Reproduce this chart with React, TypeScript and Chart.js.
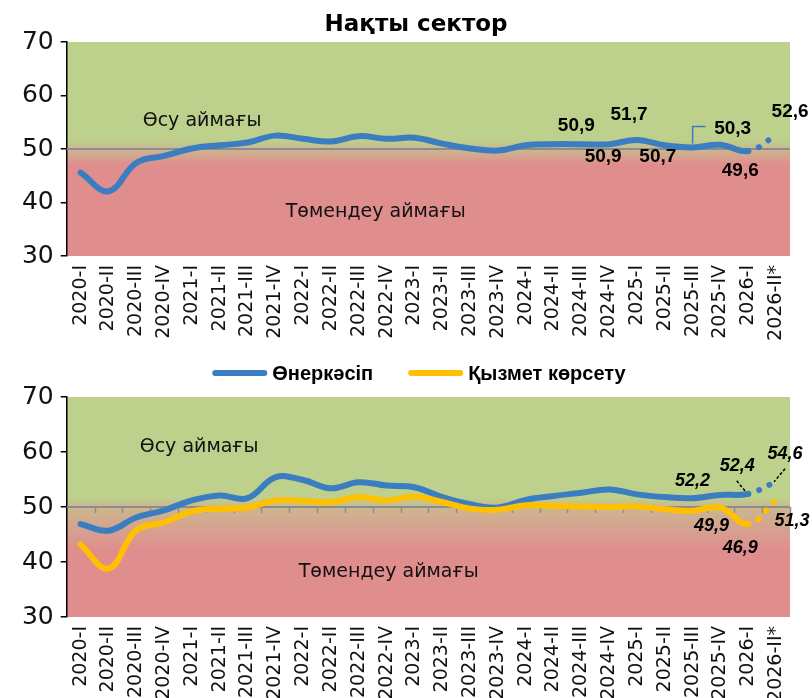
import React, { useEffect, useRef } from 'react';
import { Chart, registerables } from 'chart.js';

Chart.register(...registerables);

const categories = ['2020-I', '2020-II', '2020-III', '2020-IV', '2021-I', '2021-II', '2021-III', '2021-IV', '2022-I', '2022-II', '2022-III', '2022-IV', '2023-I', '2023-II', '2023-III', '2023-IV', '2024-I', '2024-II', '2024-III', '2024-IV', '2025-I', '2025-II', '2025-III', '2025-IV', '2026-I', '2026-II*'];

const realSector = [45.6, 42.1, 47.4, 48.7, 50.1, 50.7, 51.2, 52.5, 51.9, 51.4, 52.4, 51.9, 52.1, 51.0, 50.1, 49.7, 50.7, 50.9, 50.9, 50.9, 51.7, 50.7, 50.3, 50.8, 49.6, 52.6];
const industry = [46.9, 45.7, 48.1, 49.4, 51.2, 52.1, 51.6, 55.4, 54.9, 53.4, 54.5, 53.9, 53.6, 51.8, 50.5, 49.9, 51.3, 52.0, 52.6, 53.2, 52.3, 51.8, 51.6, 52.2, 52.4, 54.6];
const services = [43.2, 38.8, 45.8, 47.2, 49.2, 49.7, 49.9, 51.2, 51.1, 50.9, 51.8, 51.2, 51.9, 50.9, 49.7, 49.5, 50.3, 50.2, 50.1, 50.0, 50.1, 49.6, 49.3, 49.9, 46.9, 51.3];
const yTicks = [30, 40, 50, 60, 70];

const topTitle = 'Нақты сектор';
const industryName = 'Өнеркәсіп';
const servicesName = 'Қызмет көрсету';
const growthZone = 'Өсу аймағы';
const declineZone = 'Төмендеу аймағы';

const BLUE = '#3A7DC0';
const YELLOW = '#FFC000';
const GREEN = '#BDD08C';
const TAN = '#CBB78F';
const RED = '#E08D8E';
const TEXT = '#111111';

const F_DEJAVU = '"DejaVu Sans", sans-serif';
const F_LIB = '"Liberation Sans", Arial, sans-serif';

type LabelSpec = {
  ds: number;
  idx: number;
  dx: number;
  dy: number;
  font: string;
  leader?: number[][];
  leaderColor?: string;
  leaderDash?: number[];
};

const fmt = (v: number) => v.toFixed(1).replace('.', ',');

const topLabels: LabelSpec[] = [
  { ds: 0, idx: 18, dx: -5, dy: -18, font: `bold 19px ${F_LIB}` },
  { ds: 0, idx: 19, dx: -6, dy: 13, font: `bold 19px ${F_LIB}` },
  { ds: 0, idx: 20, dx: -8, dy: -25, font: `bold 19px ${F_LIB}` },
  { ds: 0, idx: 21, dx: -7, dy: 12, font: `bold 19px ${F_LIB}` },
  { ds: 0, idx: 22, dx: 40, dy: -19, font: `bold 19px ${F_LIB}`, leader: [[0, -4], [0, -21], [13, -21]], leaderColor: BLUE },
  { ds: 0, idx: 24, dx: -8, dy: 20, font: `bold 19px ${F_LIB}` },
  { ds: 0, idx: 25, dx: 14, dy: -23, font: `bold 19px ${F_LIB}` },
];

const bottomLabels: LabelSpec[] = [
  { ds: 0, idx: 23, dx: -28, dy: -14, font: `italic bold 18px ${F_LIB}` },
  { ds: 0, idx: 24, dx: -11, dy: -28, font: `italic bold 18px ${F_LIB}`, leader: [[-11.5, -13], [-2.5, -2]], leaderColor: '#000', leaderDash: [3, 2] },
  { ds: 0, idx: 25, dx: 9, dy: -28, font: `italic bold 18px ${F_LIB}`, leader: [[9, -13], [-2, 0]], leaderColor: '#000', leaderDash: [3, 2] },
  { ds: 1, idx: 23, dx: -9, dy: 18, font: `italic bold 18px ${F_LIB}` },
  { ds: 1, idx: 24, dx: -8, dy: 24, font: `italic bold 18px ${F_LIB}` },
  { ds: 1, idx: 25, dx: 16, dy: 21, font: `italic bold 18px ${F_LIB}` },
];

function zonesPlugin(redFrom: number, withTicks: boolean, growthPos: number[], declinePos: number[]) {
  return {
    id: 'zones',
    beforeDraw(chart: any) {
      const { ctx, chartArea: a, scales } = chart;
      const y = scales.y;
      const h = a.bottom - a.top;
      const stop = (v: number) => Math.min(1, Math.max(0, (y.getPixelForValue(v) - a.top) / h));
      const g = ctx.createLinearGradient(0, a.top, 0, a.bottom);
      g.addColorStop(0, GREEN);
      g.addColorStop(stop(51.7), GREEN);
      g.addColorStop(stop(50), TAN);
      g.addColorStop(stop(redFrom), RED);
      g.addColorStop(1, RED);
      ctx.save();
      ctx.fillStyle = g;
      ctx.fillRect(a.left, a.top, a.right - a.left, h);
      ctx.restore();
    },
    beforeDatasetsDraw(chart: any) {
      const { ctx, chartArea: a, scales } = chart;
      const y50 = scales.y.getPixelForValue(50);
      ctx.save();
      ctx.strokeStyle = '#8C8C8C';
      ctx.lineWidth = 2;
      ctx.beginPath();
      ctx.moveTo(a.left, y50);
      ctx.lineTo(a.right, y50);
      ctx.stroke();
      if (withTicks) {
        const n = categories.length;
        const w = (a.right - a.left) / n;
        ctx.lineWidth = 1.5;
        for (let i = 1; i <= n; i++) {
          const x = Math.round(a.left + i * w) + 0.5;
          ctx.beginPath();
          ctx.moveTo(x, y50);
          ctx.lineTo(x, y50 + 6);
          ctx.stroke();
        }
      }
      ctx.fillStyle = TEXT;
      ctx.font = `19px ${F_DEJAVU}`;
      ctx.textAlign = 'left';
      ctx.textBaseline = 'alphabetic';
      ctx.fillText(growthZone, a.left + growthPos[0], growthPos[1]);
      ctx.fillText(declineZone, a.left + declinePos[0], declinePos[1]);
      ctx.restore();
    },
  };
}

function labelsPlugin(specs: LabelSpec[]) {
  return {
    id: 'valueLabels',
    afterDatasetsDraw(chart: any) {
      const { ctx } = chart;
      ctx.save();
      specs.forEach((s) => {
        const meta = chart.getDatasetMeta(s.ds);
        const pt = meta.data[s.idx];
        if (!pt) return;
        const v = chart.data.datasets[s.ds].data[s.idx] as number;
        if (s.leader) {
          ctx.save();
          ctx.strokeStyle = s.leaderColor || '#000';
          ctx.lineWidth = 1.5;
          ctx.setLineDash(s.leaderDash || []);
          ctx.beginPath();
          s.leader.forEach((p, i) => {
            if (i === 0) ctx.moveTo(pt.x + p[0], pt.y + p[1]);
            else ctx.lineTo(pt.x + p[0], pt.y + p[1]);
          });
          ctx.stroke();
          ctx.restore();
        }
        ctx.font = s.font;
        ctx.fillStyle = '#000';
        ctx.textAlign = 'center';
        ctx.textBaseline = 'middle';
        ctx.fillText(fmt(v), pt.x + s.dx, pt.y + s.dy);
      });
      ctx.restore();
    },
  };
}

const titlePlugin = {
  id: 'panelTitle',
  afterDraw(chart: any) {
    const { ctx } = chart;
    ctx.save();
    ctx.font = `bold 23px ${F_DEJAVU}`;
    ctx.fillStyle = '#000';
    ctx.textAlign = 'center';
    ctx.textBaseline = 'alphabetic';
    ctx.fillText(topTitle, 416, 31);
    ctx.restore();
  },
};

const legendPlugin = {
  id: 'customLegend',
  afterDraw(chart: any) {
    const { ctx } = chart;
    const items = [
      { label: industryName, color: BLUE },
      { label: servicesName, color: YELLOW },
    ];
    ctx.save();
    ctx.font = `bold 20px ${F_LIB}`;
    const sw = 55;
    const gapText = 5;
    const gapItem = 35;
    const widths = items.map((it) => ctx.measureText(it.label).width);
    const total = items.reduce((acc, _it, i) => acc + sw + gapText + widths[i], 0) + gapItem * (items.length - 1);
    let x = 419 - total / 2;
    const y = 28;
    items.forEach((it, i) => {
      ctx.strokeStyle = it.color;
      ctx.lineWidth = 6;
      ctx.lineCap = 'round';
      ctx.beginPath();
      ctx.moveTo(x + 3, y);
      ctx.lineTo(x + sw - 3, y);
      ctx.stroke();
      ctx.fillStyle = '#000';
      ctx.textAlign = 'left';
      ctx.textBaseline = 'middle';
      ctx.fillText(it.label, x + sw + gapText, y + 1);
      x += sw + gapText + widths[i] + gapItem;
    });
    ctx.restore();
  },
};

function scalesFor(xHeight: number) {
  return {
    x: {
      type: 'category' as const,
      offset: true,
      grid: { display: false, drawTicks: false },
      border: { display: false },
      ticks: {
        autoSkip: false,
        minRotation: 90,
        maxRotation: 90,
        padding: 9,
        color: TEXT,
        font: { family: F_DEJAVU, size: 19 },
      },
      afterFit: (s: any) => {
        s.height = xHeight;
      },
    },
    y: {
      min: 30,
      max: 70,
      afterBuildTicks: (s: any) => {
        s.ticks = yTicks.map((v) => ({ value: v }));
      },
      grid: { drawOnChartArea: false, drawTicks: true, tickLength: 6, color: '#000', lineWidth: 1.5 },
      border: { display: true, color: '#000', width: 1.5 },
      ticks: { padding: 7, color: TEXT, font: { family: F_DEJAVU, size: 25 } },
      afterFit: (s: any) => {
        s.width = 66.7;
      },
    },
  };
}

const dotted = (ctx: any) => (ctx.p1DataIndex === categories.length - 1 ? [0.01, 11.5] : undefined);

function lineDataset(label: string, data: number[], color: string, order: number) {
  return {
    label,
    data,
    borderColor: color,
    backgroundColor: color,
    borderWidth: 6,
    pointRadius: 0,
    pointHoverRadius: 0,
    tension: 0.4,
    borderCapStyle: 'round' as const,
    borderJoinStyle: 'round' as const,
    fill: false,
    order,
    segment: { borderDash: dotted },
  };
}

export default function App() {
  const topRef = useRef<HTMLCanvasElement>(null);
  const botRef = useRef<HTMLCanvasElement>(null);

  useEffect(() => {
    document.body.style.margin = '0';
    const top = new Chart(topRef.current as HTMLCanvasElement, {
      type: 'line',
      data: {
        labels: categories,
        datasets: [lineDataset('Нақты сектор', realSector, BLUE, 1)],
      },
      options: {
        responsive: false,
        animation: false,
        layout: { padding: { top: 42, right: 22, left: 0, bottom: 0 } },
        plugins: { legend: { display: false }, tooltip: { enabled: false }, title: { display: false } },
        scales: scalesFor(89) as any,
      },
      plugins: [zonesPlugin(47, false, [76, 126], [219, 217]), labelsPlugin(topLabels), titlePlugin],
    });
    const bottom = new Chart(botRef.current as HTMLCanvasElement, {
      type: 'line',
      data: {
        labels: categories,
        datasets: [
          lineDataset(industryName, industry, BLUE, 2),
          lineDataset(servicesName, services, YELLOW, 1),
        ],
      },
      options: {
        responsive: false,
        animation: false,
        layout: { padding: { top: 52, right: 22, left: 0, bottom: 0 } },
        plugins: { legend: { display: false }, tooltip: { enabled: false }, title: { display: false } },
        scales: scalesFor(81) as any,
      },
      plugins: [zonesPlugin(42, true, [73, 107], [232, 232]), labelsPlugin(bottomLabels), legendPlugin],
    });
    return () => {
      top.destroy();
      bottom.destroy();
    };
  }, []);

  return (
    <div style={{ width: 812, height: 698, position: 'relative', background: '#fff', overflow: 'hidden' }}>
      <canvas ref={topRef} width={812} height={345} style={{ display: 'block' }} />
      <canvas ref={botRef} width={812} height={353} style={{ display: 'block' }} />
    </div>
  );
}
